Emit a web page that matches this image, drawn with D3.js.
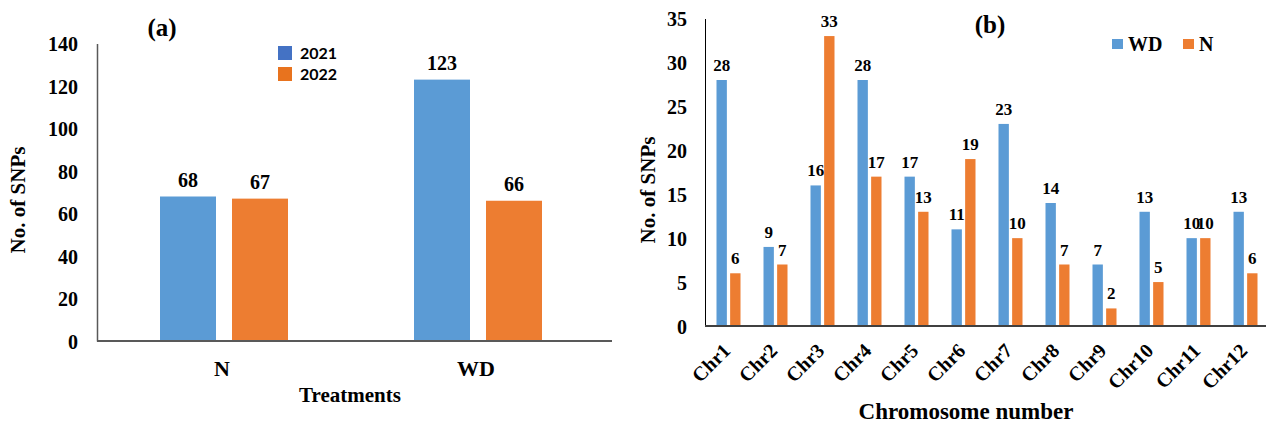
<!DOCTYPE html>
<html>
<head>
<meta charset="utf-8">
<script src="https://cdn.jsdelivr.net/npm/d3@7"></script>
<style>
  html, body { margin: 0; padding: 0; background: #fff; }
  svg { display: block; }
  text { font-family: "Liberation Serif", "Times New Roman", serif; font-weight: 700; fill: #000; }
</style>
</head>
<body>
<div id="chart"></div>
<script>
"use strict";

// panel (a): SNPs per treatment and year
const treatments = ["N", "WD"];
const years = ["2021", "2022"];
const snps2021 = [68, 123];
const snps2022 = [67, 66];
const ticksA = [0, 20, 40, 60, 80, 100, 120, 140];

// panel (b): SNPs per chromosome and treatment
const chromosomes = ["Chr1", "Chr2", "Chr3", "Chr4", "Chr5", "Chr6", "Chr7", "Chr8", "Chr9", "Chr10", "Chr11", "Chr12"];
const seriesB = ["WD", "N"];
const snpsWD = [28, 9, 16, 28, 17, 11, 23, 14, 7, 13, 10, 13];
const snpsN = [6, 7, 33, 17, 13, 19, 10, 7, 2, 5, 10, 6];
const ticksB = [0, 5, 10, 15, 20, 25, 30, 35];

const blue = "#5B9BD5";
const orange = "#ED7D31";

const svg = d3.select("#chart").append("svg")
  .attr("width", 1266)
  .attr("height", 427);

function drawBars(g, cats, seriesNames, seriesVals, x, inner, y, colors, labelSize, labelGap) {
  seriesNames.forEach((name, si) => {
    const rows = cats.map((c, i) => ({ cat: c, value: seriesVals[si][i] }));
    g.selectAll(`rect.s${si}`)
      .data(rows)
      .join("rect")
      .attr("class", `s${si}`)
      .attr("x", (d) => x(d.cat) + x.bandwidth() / 2 + inner(name))
      .attr("y", (d) => y(d.value))
      .attr("width", inner.bandwidth())
      .attr("height", (d) => y(0) - y(d.value))
      .attr("fill", colors[si]);

    g.selectAll(`text.l${si}`)
      .data(rows)
      .join("text")
      .attr("class", `l${si}`)
      .attr("x", (d) => x(d.cat) + x.bandwidth() / 2 + inner(name) + inner.bandwidth() / 2)
      .attr("y", (d) => y(d.value) - labelGap)
      .attr("text-anchor", "middle")
      .attr("font-size", labelSize)
      .text((d) => d.value);
  });
}

// ---------- panel (a) ----------
{
  const g = svg.append("g");
  const x = d3.scaleBand().domain(treatments).range([97, 605]);
  const inner = d3.scaleBand().domain(years).range([-64, 64]).paddingInner(16 / 72);
  const y = d3.scaleLinear().domain([0, 140]).range([341, 43.5]);

  g.append("g")
    .attr("transform", "translate(97,0)")
    .call(d3.axisLeft(y).tickValues(ticksA).tickSize(0).tickPadding(19))
    .call((axis) => axis.select(".domain").attr("stroke", "#595959").attr("stroke-width", 1.5))
    .call((axis) => axis.selectAll("text").attr("font-size", 20).attr("dy", "0.35em"));

  drawBars(g, treatments, years, [snps2021, snps2022], x, inner, y, [blue, orange], 20, 10);

  g.append("line")
    .attr("x1", 97).attr("x2", 612)
    .attr("y1", y(0)).attr("y2", y(0))
    .attr("stroke", "#595959").attr("stroke-width", 2);

  g.selectAll("text.cat")
    .data(treatments)
    .join("text")
    .attr("class", "cat")
    .attr("x", (d) => x(d) + x.bandwidth() / 2 - 2)
    .attr("y", 376)
    .attr("text-anchor", "middle")
    .attr("font-size", 22)
    .text((d) => d);

  g.append("text")
    .attr("x", 350).attr("y", 402)
    .attr("text-anchor", "middle")
    .attr("font-size", 21)
    .text("Treatments");

  g.append("text")
    .attr("transform", "translate(25,200) rotate(-90)")
    .attr("text-anchor", "middle")
    .attr("font-size", 21)
    .text("No. of SNPs");

  g.append("text")
    .attr("x", 162).attr("y", 36)
    .attr("text-anchor", "middle")
    .attr("font-size", 25)
    .text("(a)");

  // legend swatches are a darker blue than the bars in the original
  const legendColors = ["#4472C4", "#E8731E"];
  const legend = g.selectAll("g.leg")
    .data(years)
    .join("g")
    .attr("class", "leg")
    .attr("transform", (d, i) => `translate(278,${46 + i * 21})`);
  legend.append("rect")
    .attr("width", 14).attr("height", 14)
    .attr("fill", (d, i) => legendColors[i]);
  legend.append("text")
    .attr("x", 22).attr("y", 13)
    .style("font-family", "Lato, 'Open Sans', sans-serif")
    .attr("font-size", 16)
    .text((d) => d);
}

// ---------- panel (b) ----------
{
  const g = svg.append("g");
  const x = d3.scaleBand().domain(chromosomes).range([705, 1269]);
  const inner = d3.scaleBand().domain(seriesB).range([-12, 12]).paddingInner(0.24);
  const y = d3.scaleLinear().domain([0, 35]).range([326, 18.5]);

  g.append("g")
    .attr("transform", "translate(705,0)")
    .call(d3.axisLeft(y).tickValues(ticksB).tickSize(0).tickPadding(18))
    .call((axis) => axis.select(".domain").attr("stroke", "#000").attr("stroke-width", 1))
    .call((axis) => axis.selectAll("text").attr("font-size", 20).attr("dy", "0.35em"));

  drawBars(g, chromosomes, seriesB, [snpsWD, snpsN], x, inner, y, [blue, orange], 17, 9);

  g.append("line")
    .attr("x1", 705).attr("x2", 1266)
    .attr("y1", y(0)).attr("y2", y(0))
    .attr("stroke", "#404040").attr("stroke-width", 2);

  g.selectAll("text.cat")
    .data(chromosomes)
    .join("text")
    .attr("class", "cat")
    .attr("transform", (d) => `translate(${x(d) + x.bandwidth() / 2 + 3},352) rotate(-45)`)
    .attr("text-anchor", "end")
    .attr("font-size", 20)
    .text((d) => d);

  g.append("text")
    .attr("x", 966).attr("y", 419)
    .attr("text-anchor", "middle")
    .attr("font-size", 23)
    .text("Chromosome number");

  g.append("text")
    .attr("transform", "translate(655,190) rotate(-90)")
    .attr("text-anchor", "middle")
    .attr("font-size", 21)
    .text("No. of SNPs");

  g.append("text")
    .attr("x", 990).attr("y", 33)
    .attr("text-anchor", "middle")
    .attr("font-size", 25)
    .text("(b)");

  const legendX = [1112, 1183];
  const legend = g.selectAll("g.leg")
    .data(seriesB)
    .join("g")
    .attr("class", "leg")
    .attr("transform", (d, i) => `translate(${legendX[i]},39)`);
  legend.append("rect")
    .attr("width", 11).attr("height", 10)
    .attr("fill", (d, i) => [blue, orange][i]);
  legend.append("text")
    .attr("x", 16).attr("y", 12)
    .attr("font-size", 20)
    .text((d) => d);
}
</script>
</body>
</html>
